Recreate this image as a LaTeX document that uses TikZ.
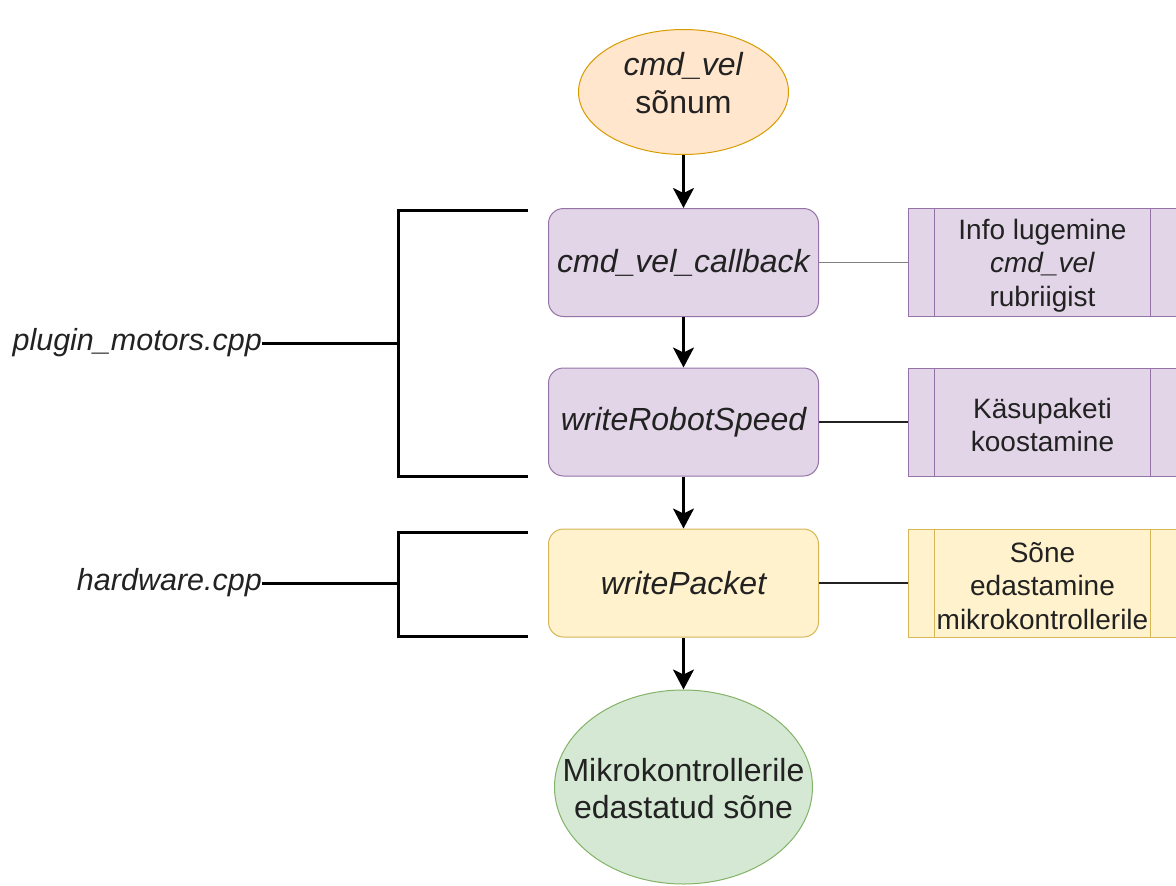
\documentclass[tikz,border=0pt]{standalone}
\usepackage{fontspec}
\setmainfont{Liberation Sans}
\usetikzlibrary{arrows.meta,shapes.geometric}

\definecolor{orfill}{HTML}{FFE6CC}
\definecolor{ordraw}{HTML}{D79B00}
\definecolor{pufill}{HTML}{E1D5E7}
\definecolor{pudraw}{HTML}{9673A6}
\definecolor{yefill}{HTML}{FFF2CC}
\definecolor{yedraw}{HTML}{D6B656}
\definecolor{grfill}{HTML}{D5E8D4}
\definecolor{grdraw}{HTML}{82B366}
\definecolor{ink}{HTML}{222222}

\tikzset{
  mainfont/.style={font=\fontsize{32}{38}\selectfont, text=ink},
  oval/.style={ellipse, draw, line width=1pt, inner sep=0pt},
  ovaltext/.style={align=center, inner sep=0pt, mainfont},
  funcbox/.style={rectangle, rounded corners=15pt, draw, line width=1pt,
    minimum width=270pt, minimum height=108pt, inner sep=0pt,
    text=ink, font=\fontsize{32}{38}\selectfont\itshape},
  procbox/.style={rectangle, draw, line width=1pt, minimum width=269pt,
    minimum height=108pt, inner sep=0pt},
  proctext/.style={align=center, inner sep=0pt, font=\fontsize{28}{33.6}\selectfont, text=ink},
  flow/.style={-{Stealth[length=20pt, width=21pt, inset=5pt]}, line width=2.6pt, draw=black},
  link/.style={line width=1.5pt, draw=ink},
  bracket/.style={line width=3pt, draw=black},
  filelabel/.style={anchor=east, inner sep=0pt, font=\fontsize{30.5}{37}\selectfont\itshape, text=ink}
}

\begin{document}
\begin{tikzpicture}[x=1pt, y=-1pt]
\useasboundingbox (0,0) rectangle (1176,886);
\clip (0,0) rectangle (1176,886);

% main flow
\node[oval, fill=orfill, draw=ordraw, minimum width=210pt, minimum height=125pt]
  (msg) at (683.5,92) {};
\node[ovaltext] (msgtext) at (683.5,83) {\textit{cmd\_vel}\\sõnum};
\node[funcbox, fill=pufill, draw=pudraw] (cb) at (683.5,262.5) {cmd\_vel\_callback};
\node[funcbox, fill=pufill, draw=pudraw] (speed) at (683.5,422) {writeRobotSpeed};
\node[funcbox, fill=yefill, draw=yedraw] (packet) at (683.5,583) {writePacket};
\node[oval, fill=grfill, draw=grdraw, minimum width=258pt, minimum height=194pt]
  (sent) at (683.5,787) {};
\node[ovaltext, font=\fontsize{32}{37}\selectfont] (senttext) at (683.5,789)
  {Mikrokontrollerile\\edastatud sõne};

\draw[flow] (msg.south) -- (cb.north);
\draw[flow] (cb.south) -- (speed.north);
\draw[flow] (speed.south) -- (packet.north);
\draw[flow] (packet.south) -- (sent.north);

% side descriptions (process boxes with inner bars)
\foreach \nm/\y/\fc/\dc/\txt in {
    readinfo/262.5/pufill/pudraw/{Info lugemine\\\textit{cmd\_vel}\\rubriigist},
    buildpkt/422/pufill/pudraw/{Käsupaketi\\koostamine},
    sendpkt/583/yefill/yedraw/{Sõne\\edastamine\\mikrokontrollerile}} {
  \node[procbox, fill=\fc, draw=\dc] (\nm) at (1042.5,\y) {};
  \node[proctext] (\nm text) at (1042.5,\y+3) {\txt};
  \draw[\dc, line width=1pt] ([xshift=27pt]\nm.north west) -- ([xshift=27pt]\nm.south west);
  \draw[\dc, line width=1pt] ([xshift=-27pt]\nm.north east) -- ([xshift=-27pt]\nm.south east);
}

\draw[link, draw=gray] (cb.east) -- (readinfo.west);
\draw[link] (speed.east) -- (buildpkt.west);
\draw[link] (packet.east) -- (sendpkt.west);

% source file brackets
\coordinate (pmtop) at (528,210);
\coordinate (pmbot) at (528,476);
\coordinate (pmjoin) at (398,343);
\node[filelabel] (pm) at (262,343) {plugin\_motors.cpp};
\draw[bracket] (pmtop) -- (398,210) -- (398,476) -- (pmbot);
\draw[bracket] (pm.east) -- (pmjoin);

\coordinate (hwtop) at (528,532);
\coordinate (hwbot) at (528,636);
\coordinate (hwjoin) at (398,583);
\node[filelabel] (hw) at (262,583) {hardware.cpp};
\draw[bracket] (hwtop) -- (398,532) -- (398,636) -- (hwbot);
\draw[bracket] (hw.east) -- (hwjoin);
\end{tikzpicture}
\end{document}
